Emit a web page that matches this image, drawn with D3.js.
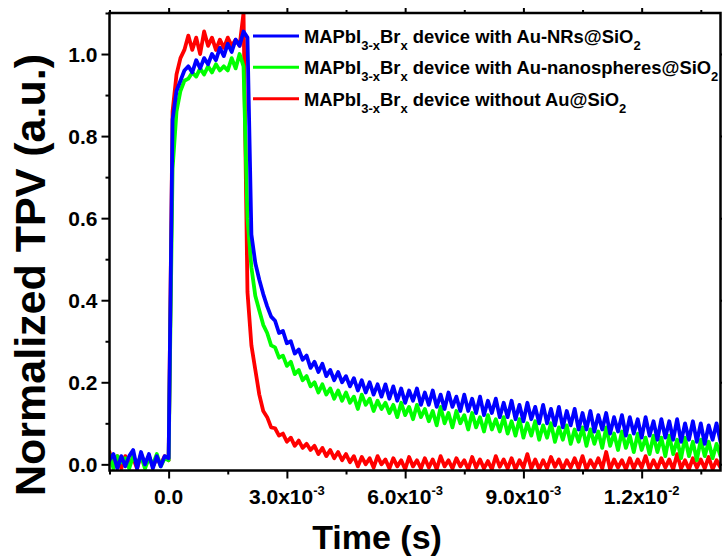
<!DOCTYPE html>
<html>
<head>
<meta charset="utf-8">
<script src="https://cdn.jsdelivr.net/npm/d3@7"></script>
<style>
  html, body { margin: 0; padding: 0; background: #fff; }
  svg { display: block; }
  text { font-family: "Liberation Sans", Arial, Helvetica, sans-serif; font-weight: bold; fill: #000; }
</style>
</head>
<body>
<svg id="chart" width="722" height="557"></svg>
<script>
// Sampling grid of the transient traces, in milliseconds (0.1 ms steps from -1.5 to 14.0 ms)
const timeMs = d3.range(-15, 141).map(k => k / 10);

// Normalized TPV, device without Au@SiO2
const tpvWithout = [
  0.03, 0.0, 0.02, -0.01, 0.02, 0.0, 0.015, -0.01, 0.025, 0.0,
  0.02, -0.005, 0.015, 0.0, 0.02, 0.01, 0.86, 0.95, 0.99, 1.01,
  1.045, 1.01, 1.04, 1.0, 1.055, 1.02, 1.04, 1.01, 1.035, 1.015,
  1.04, 1.02, 1.035, 1.02, 1.1, 0.42, 0.29, 0.23, 0.17, 0.13,
  0.115, 0.09, 0.088, 0.07, 0.075, 0.055, 0.065, 0.045, 0.058, 0.04,
  0.05, 0.035, 0.045, 0.025, 0.04, 0.02, 0.035, 0.015, 0.03, 0.01,
  0.025, 0.005, 0.02, -0.005, 0.018, 0.0, 0.015, -0.008, 0.02, 0.0,
  0.012, -0.01, 0.015, -0.005, 0.01, -0.012, 0.018, -0.005, 0.01, -0.01,
  0.015, -0.008, 0.012, -0.012, 0.02, -0.005, 0.01, -0.01, 0.015, -0.005,
  0.01, -0.012, 0.018, -0.008, 0.012, -0.01, 0.008, -0.012, 0.02, -0.006,
  0.012, -0.01, 0.015, -0.012, 0.01, -0.008, 0.025, -0.01, 0.012, -0.012,
  0.01, -0.01, 0.018, -0.006, 0.012, -0.012, 0.01, -0.008, 0.015, -0.01,
  0.02, -0.012, 0.01, -0.008, 0.015, -0.01, 0.03, -0.012, 0.012, -0.008,
  0.01, -0.012, 0.015, -0.01, 0.012, -0.008, 0.02, -0.012, 0.01, -0.01,
  0.015, -0.008, 0.012, -0.012, 0.025, -0.01, 0.01, -0.012, 0.015, -0.008,
  0.012, -0.01, 0.018, -0.012, 0.01, -0.008
];

// Normalized TPV, device with Au-nanospheres@SiO2
const tpvNanospheres = [
  0.025, -0.01, 0.02, 0.005, 0.015, -0.01, 0.02, 0.0, 0.02, -0.01,
  0.015, 0.0, 0.025, -0.005, 0.015, 0.01, 0.72, 0.86, 0.91, 0.935,
  0.94, 0.955, 0.945, 0.965, 0.95, 0.97, 0.955, 0.975, 0.96, 0.97,
  0.96, 0.99, 0.965, 1.0, 0.97, 0.6, 0.48, 0.41, 0.375, 0.34,
  0.32, 0.29, 0.285, 0.26, 0.265, 0.24, 0.25, 0.22, 0.23, 0.205,
  0.215, 0.19, 0.2, 0.175, 0.195, 0.17, 0.185, 0.16, 0.18, 0.155,
  0.175, 0.15, 0.165, 0.135, 0.17, 0.145, 0.16, 0.13, 0.155, 0.135,
  0.15, 0.125, 0.145, 0.115, 0.15, 0.12, 0.14, 0.11, 0.145, 0.115,
  0.135, 0.105, 0.13, 0.095, 0.14, 0.1, 0.125, 0.09, 0.13, 0.1,
  0.12, 0.085, 0.125, 0.09, 0.115, 0.08, 0.12, 0.085, 0.11, 0.08,
  0.115, 0.075, 0.105, 0.07, 0.11, 0.065, 0.1, 0.07, 0.105, 0.06,
  0.095, 0.065, 0.1, 0.055, 0.09, 0.06, 0.095, 0.05, 0.085, 0.055,
  0.09, 0.045, 0.085, 0.05, 0.08, 0.04, 0.09, 0.045, 0.075, 0.035,
  0.08, 0.04, 0.07, 0.03, 0.075, 0.035, 0.065, 0.025, 0.07, 0.03,
  0.065, 0.02, 0.07, 0.025, 0.06, 0.015, 0.065, 0.02, 0.055, 0.01,
  0.06, 0.02, 0.055, 0.015, 0.05, 0.02
];

// Normalized TPV, device with Au-NRs@SiO2
const tpvNanorods = [
  0.01, 0.025, -0.01, 0.02, -0.005, 0.02, 0.035, -0.01, 0.03, 0.0,
  0.025, -0.01, 0.02, -0.005, 0.02, 0.015, 0.84, 0.91, 0.935, 0.96,
  0.97, 0.955, 0.985, 0.965, 0.99, 0.975, 1.0, 0.985, 1.015, 0.995,
  1.025, 1.005, 1.035, 1.02, 1.055, 1.04, 0.56, 0.49, 0.45, 0.415,
  0.385, 0.36, 0.35, 0.32, 0.325, 0.295, 0.3, 0.27, 0.28, 0.255,
  0.265, 0.235, 0.25, 0.225, 0.245, 0.215, 0.23, 0.205, 0.225, 0.2,
  0.215, 0.19, 0.21, 0.18, 0.205, 0.175, 0.2, 0.17, 0.195, 0.165,
  0.195, 0.16, 0.19, 0.155, 0.185, 0.15, 0.18, 0.155, 0.185, 0.145,
  0.175, 0.145, 0.18, 0.14, 0.17, 0.135, 0.175, 0.14, 0.165, 0.13,
  0.17, 0.13, 0.16, 0.125, 0.165, 0.12, 0.155, 0.125, 0.16, 0.115,
  0.15, 0.115, 0.155, 0.11, 0.145, 0.105, 0.15, 0.11, 0.14, 0.1,
  0.145, 0.1, 0.135, 0.095, 0.14, 0.09, 0.13, 0.095, 0.135, 0.085,
  0.125, 0.085, 0.13, 0.08, 0.12, 0.085, 0.125, 0.075, 0.115, 0.08,
  0.12, 0.07, 0.115, 0.075, 0.11, 0.065, 0.115, 0.07, 0.105, 0.06,
  0.11, 0.065, 0.105, 0.06, 0.11, 0.055, 0.1, 0.06, 0.105, 0.055,
  0.1, 0.05, 0.095, 0.06, 0.1, 0.055
];

// Legend entries (top to bottom); "_{...}" marks a subscript
const legendLabels = [
  "MAPbI_{3-x}Br_{x} device with Au-NRs@SiO_{2}",
  "MAPbI_{3-x}Br_{x} device with Au-nanospheres@SiO_{2}",
  "MAPbI_{3-x}Br_{x} device without Au@SiO_{2}"
];
const legendColors = ["#0000ff", "#00ff00", "#ff0000"];

// Axis ticks
const xMajorMs = [0, 3, 6, 9, 12];
const xTickMantissa = ["0.0", "3.0", "6.0", "9.0", "1.2"];
const xTickExponent = ["", "-3", "-3", "-3", "-2"];
const xMinorMs = [-1.5, 1.5, 4.5, 7.5, 10.5, 13.5];
const yMajor = [0.0, 0.2, 0.4, 0.6, 0.8, 1.0];
const yMinor = [0.1, 0.3, 0.5, 0.7, 0.9, 1.1];

const xTitle = "Time (s)";
const yTitle = "Normalized TPV (a.u.)";

// ---- layout ----
const svg = d3.select("#chart");
const plot = { left: 109.5, right: 720.5, top: 13, bottom: 470.5 };

const x = d3.scaleLinear().domain([-1.5, 14]).range([plot.left, plot.right]);
const y = d3.scaleLinear().domain([-0.015, 1.1]).range([plot.bottom, plot.top]);

svg.append("defs").append("clipPath").attr("id", "plotClip")
  .append("rect")
  .attr("x", plot.left).attr("y", plot.top)
  .attr("width", plot.right - plot.left).attr("height", plot.bottom - plot.top);

const line = d3.line()
  .x((d, i) => x(timeMs[i]))
  .y(d => y(d));

// traces: red first, then green, blue on top
const traces = [
  { values: tpvWithout, color: "#ff0000" },
  { values: tpvNanospheres, color: "#00ff00" },
  { values: tpvNanorods, color: "#0000ff" }
];

const traceLayer = svg.append("g").attr("clip-path", "url(#plotClip)");
traceLayer.selectAll("path").data(traces).join("path")
  .attr("d", d => line(d.values))
  .attr("fill", "none")
  .attr("stroke", d => d.color)
  .attr("stroke-width", 3.8)
  .attr("stroke-linejoin", "round")
  .attr("stroke-linecap", "round");

// ---- axes ----
const axisW = 2.5;
function styleAxis(g) {
  g.select(".domain").remove();
  g.selectAll(".tick line").attr("stroke", "#000").attr("stroke-width", 2);
  g.selectAll(".tick text").remove();
}

// bottom
svg.append("g").attr("transform", `translate(0,${plot.bottom})`)
  .call(d3.axisBottom(x).tickValues(xMajorMs).tickSize(8).tickFormat("")).call(styleAxis);
svg.append("g").attr("transform", `translate(0,${plot.bottom})`)
  .call(d3.axisBottom(x).tickValues(xMinorMs).tickSize(4).tickFormat("")).call(styleAxis);
// top
svg.append("g").attr("transform", `translate(0,${plot.top})`)
  .call(d3.axisTop(x).tickValues(xMajorMs).tickSize(5).tickFormat("")).call(styleAxis);
svg.append("g").attr("transform", `translate(0,${plot.top})`)
  .call(d3.axisTop(x).tickValues(xMinorMs).tickSize(3).tickFormat("")).call(styleAxis);
// left
svg.append("g").attr("transform", `translate(${plot.left},0)`)
  .call(d3.axisLeft(y).tickValues(yMajor).tickSize(8).tickFormat("")).call(styleAxis);
svg.append("g").attr("transform", `translate(${plot.left},0)`)
  .call(d3.axisLeft(y).tickValues(yMinor).tickSize(4).tickFormat("")).call(styleAxis);
// right
svg.append("g").attr("transform", `translate(${plot.right},0)`)
  .call(d3.axisRight(y).tickValues(yMajor).tickSize(6).tickFormat("")).call(styleAxis);

// frame
svg.append("rect")
  .attr("x", plot.left).attr("y", plot.top)
  .attr("width", plot.right - plot.left).attr("height", plot.bottom - plot.top)
  .attr("fill", "none").attr("stroke", "#000").attr("stroke-width", axisW);

// y tick labels
svg.append("g").selectAll("text").data(yMajor).join("text")
  .attr("x", plot.left - 12)
  .attr("y", d => y(d))
  .attr("dy", "0.36em")
  .attr("text-anchor", "end")
  .attr("font-size", 21)
  .text(d => d.toFixed(1));

// x tick labels (mantissa x 10 with superscript exponent)
const xl = svg.append("g").selectAll("text").data(xMajorMs).join("text")
  .attr("x", d => x(d))
  .attr("y", 504)
  .attr("text-anchor", "middle")
  .attr("font-size", 21);
xl.each(function (d, i) {
  const t = d3.select(this);
  if (!xTickExponent[i]) { t.text(xTickMantissa[i]); return; }
  t.append("tspan").text(xTickMantissa[i] + "x10");
  t.append("tspan").attr("dy", -9).attr("font-size", 13).text(xTickExponent[i]);
});

// axis titles
svg.append("text")
  .attr("x", 377).attr("y", 549)
  .attr("text-anchor", "middle")
  .attr("font-size", 34)
  .text(xTitle);

svg.append("text")
  .attr("transform", `translate(45,275) rotate(-90)`)
  .attr("text-anchor", "middle")
  .attr("font-size", 43)
  .text(yTitle);

// ---- legend ----
const legendRowY = [36, 67.3, 98.7];
const leg = svg.append("g");
legendLabels.forEach((label, i) => {
  const yy = legendRowY[i];
  leg.append("line")
    .attr("x1", 253).attr("x2", 299)
    .attr("y1", yy).attr("y2", yy)
    .attr("stroke", legendColors[i]).attr("stroke-width", 3);
  const txt = leg.append("text")
    .attr("x", 304).attr("y", yy + 7)
    .attr("font-size", 18.4);
  const parts = label.split(/(_\{[^}]*\})/).filter(s => s.length);
  let shifted = false;
  parts.forEach(p => {
    if (p.startsWith("_{")) {
      txt.append("tspan").attr("dy", 7).attr("font-size", 13).text(p.slice(2, -1));
      shifted = true;
    } else {
      const ts = txt.append("tspan").text(p);
      if (shifted) { ts.attr("dy", -7); shifted = false; }
    }
  });
});
</script>
</body>
</html>
